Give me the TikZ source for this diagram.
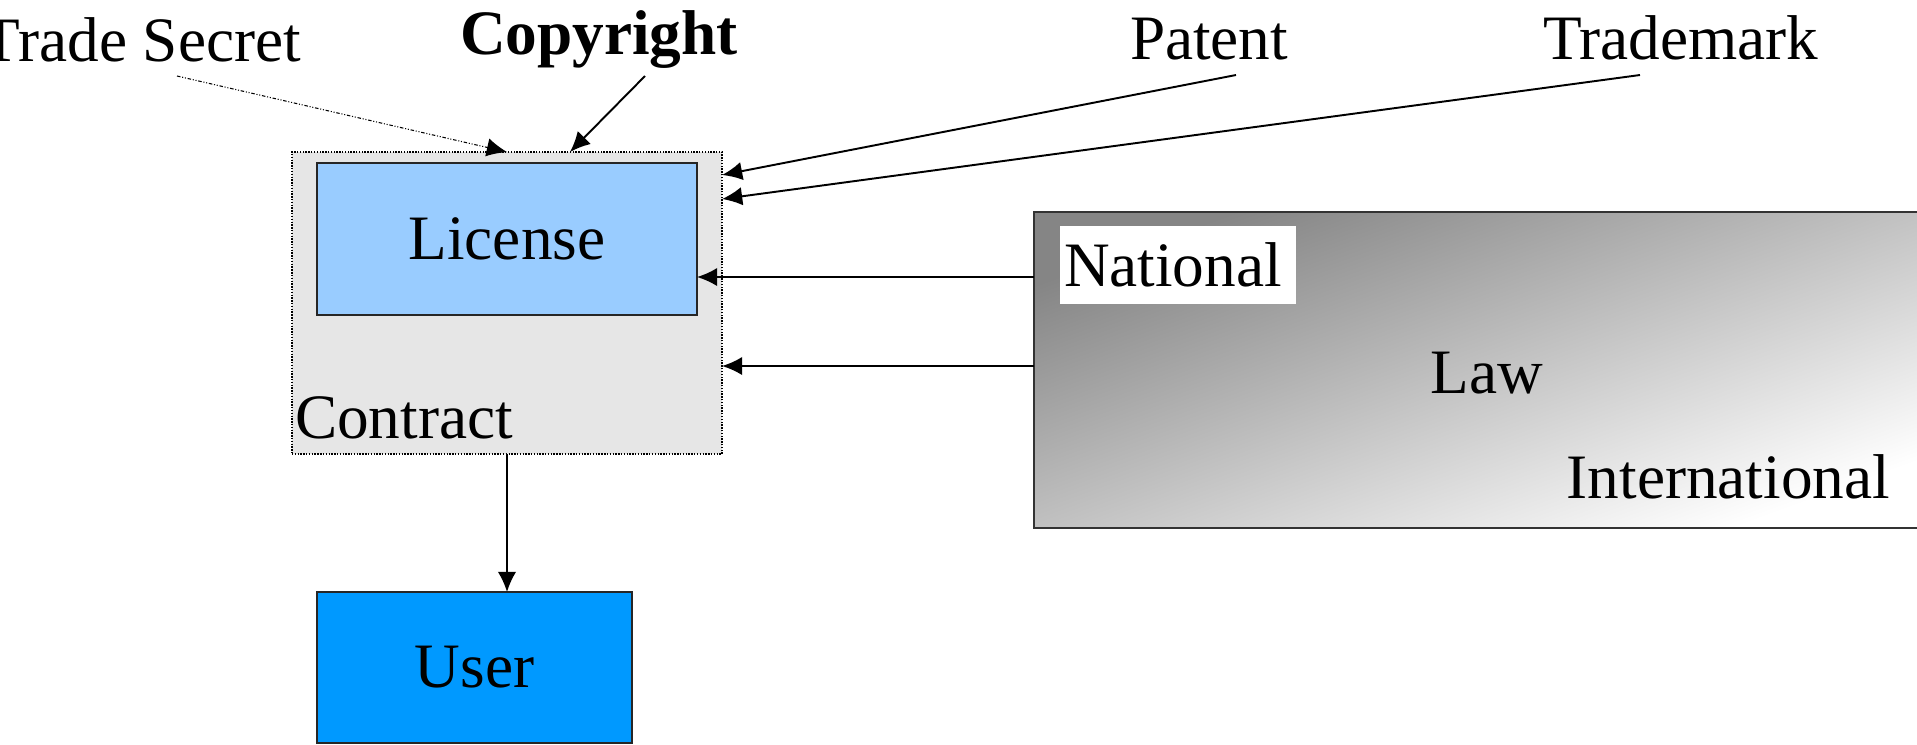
\documentclass[tikz,border=0pt]{standalone}
\usepackage{fontspec}
\setmainfont{Liberation Serif}
\usetikzlibrary{arrows.meta}
\usetikzlibrary{positioning}
\definecolor{licenseblue}{HTML}{99CCFF}
\definecolor{userblue}{HTML}{0099FF}
\definecolor{contractgray}{HTML}{E6E6E6}
\tikzset{big/.style = {font = \fontsize{36}{40}\selectfont, inner sep = 0, outer sep = 0}}
\tikzset{bold/.style = {big, font = \fontsize{36}{40}\selectfont\bfseries}}
\tikzset{box/.style = {big, draw = black!85, line width = 1.1pt}}
\tikzset{link/.style = {-{Latex[length = 11.5pt, width = 10.5pt]}, line width = 1.1pt}}

\begin{document}
\begin{tikzpicture}
    \useasboundingbox (0, 0) rectangle (38.34, -14.88);
    \node (law) [draw = black!80, line width = 1pt, outer sep = 0, anchor = north west, minimum width = 17.92cm, minimum height = 6.32cm, top color = black!48, bottom color = white, shading angle = 20] at (20.68, -4.24) {};
    \node (national) [big, fill = white, inner xsep = 0.08cm, text width = 4.56cm, align = left, minimum height = 1.56cm] at (23.56, -5.3) {National};
    \node (lawlabel) [big, anchor = base] at (29.74, -7.86) {Law};
    \node (international) [big, anchor = base east] at (37.8, -9.96) {International};
    \node (contract) [fill = contractgray, draw, line width = 0.8pt, dash pattern = on 0.8pt off 0.8pt, outer sep = 0, minimum width = 8.6cm, minimum height = 6.04cm] at (10.14, -6.06) {};
    \node (contractlabel) [big, anchor = base west] at (5.9, -8.76) {Contract};
    \node (license) [box, fill = licenseblue, minimum width = 7.6cm, minimum height = 3.04cm] at (10.14, -4.78) {License};
    \node (user) [box, fill = userblue, minimum width = 6.3cm, minimum height = 3.02cm] at (9.49, -13.35) {User};
    \node (tradesecret) [big, anchor = base east] at (6.02, -1.22) {Trade Secret};
    \node (copyright) [bold, anchor = base west] at (9.2, -1.08) {Copyright};
    \node (patent) [big, anchor = base west] at (22.6, -1.18) {Patent};
    \node (trademark) [big, anchor = base west] at (30.86, -1.18) {Trademark};
    \coordinate (tsfoot) at (3.54, -1.52);
    \coordinate (crfoot) at (12.9, -1.52);
    \coordinate (ptfoot) at (24.72, -1.5);
    \coordinate (tmfoot) at (32.8, -1.5);
    \coordinate (natin) at ([yshift = -1.3cm]law.north west);
    \coordinate (intin) at ([yshift = -3.08cm]law.north west);
    \draw [link, line width = 0.6pt, dash pattern = on 2pt off 1pt on 0.6pt off 1pt on 0.6pt off 1pt] (tsfoot) -- (contract.north);
    \draw [link] (crfoot) -- ([xshift = 1.26cm]contract.north);
    \draw [link] (ptfoot) -- ([yshift = -0.46cm]contract.north east);
    \draw [link] (tmfoot) -- ([yshift = -0.94cm]contract.north east);
    \draw [link] (natin) -- (natin -| license.east);
    \draw [link] (intin) -- (intin -| contract.east);
    \draw [link] (contract.south) -- (contract.south |- user.north);
\end{tikzpicture}
\end{document}
